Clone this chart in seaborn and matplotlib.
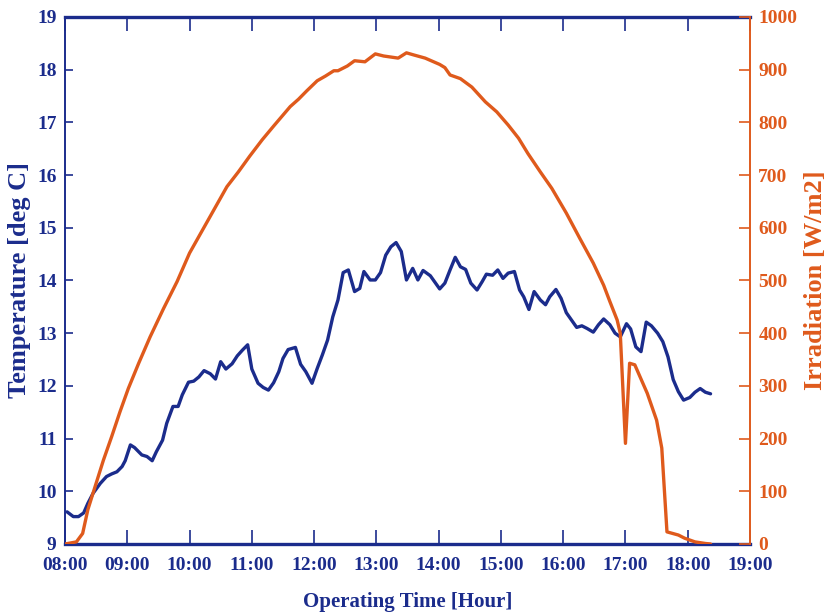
import matplotlib
matplotlib.use("Agg")
import matplotlib.pyplot as plt
import seaborn as sns
import pandas as pd

# ---- data (minutes after 08:00) ----
temp_minutes = [2, 8, 13, 18, 22, 27, 34, 40, 45, 50, 55, 58, 63, 67, 74, 79, 84, 88, 94, 98,
                104, 109, 113, 119, 124, 129, 134, 140, 145, 150, 155, 161, 166, 171, 176, 180,
                186, 191, 196, 201, 206, 210, 215, 222, 227, 232, 238, 243, 248, 253, 258, 263,
                268, 273, 279, 284, 288, 294, 299, 304, 309, 314, 319, 324, 329, 335, 340, 345,
                352, 361, 366, 371, 376, 381, 386, 391, 397, 402, 406, 412, 417, 422, 427, 433,
                438, 442, 447, 452, 458, 463, 467, 473, 478, 483, 488, 493, 498, 503, 509, 514,
                519, 525, 530, 535, 541, 545, 550, 555, 560, 565, 571, 576, 581, 586, 591, 596,
                602, 607, 612, 617, 622]
temperature = [9.61, 9.52, 9.52, 9.59, 9.77, 9.96, 10.15, 10.28, 10.33, 10.37, 10.47, 10.58,
               10.88, 10.83, 10.69, 10.66, 10.58, 10.75, 10.97, 11.29, 11.61, 11.61, 11.83,
               12.07, 12.09, 12.17, 12.29, 12.23, 12.13, 12.46, 12.32, 12.42, 12.57, 12.68,
               12.78, 12.32, 12.05, 11.97, 11.92, 12.06, 12.27, 12.52, 12.69, 12.73, 12.41,
               12.27, 12.05, 12.33, 12.59, 12.87, 13.31, 13.63, 14.15, 14.20, 13.79, 13.85,
               14.17, 14.01, 14.01, 14.15, 14.48, 14.64, 14.72, 14.55, 14.01, 14.23, 14.01,
               14.19, 14.09, 13.84, 13.95, 14.20, 14.44, 14.26, 14.21, 13.95, 13.82, 13.98,
               14.12, 14.10, 14.20, 14.04, 14.14, 14.17, 13.82, 13.69, 13.45, 13.79, 13.63,
               13.54, 13.69, 13.83, 13.66, 13.39, 13.25, 13.11, 13.14, 13.09, 13.02, 13.16,
               13.27, 13.16, 13.00, 12.93, 13.18, 13.08, 12.74, 12.65, 13.21, 13.14, 13.00,
               12.84, 12.55, 12.12, 11.89, 11.73, 11.78, 11.88, 11.95, 11.88, 11.85]

irr_minutes = [0, 11, 17, 22, 29, 37, 45, 53, 61, 71, 82, 95, 108, 120, 128, 138, 148, 156,
               167, 178, 190, 201, 217, 225, 233, 243, 251, 259, 263, 272, 279, 289, 299, 307,
               321, 329, 336, 347, 361, 366, 371, 381, 392, 405, 416, 427, 437, 446, 458, 469,
               483, 496, 509, 519, 525, 532, 535, 540, 544, 549, 561, 570, 575, 580, 591, 597,
               607, 617, 622]
irradiation = [0, 4, 20, 65, 109, 159, 204, 251, 295, 343, 393, 447, 498, 552, 580, 615, 650,
               678, 706, 736, 767, 793, 830, 844, 860, 879, 888, 898, 898, 907, 917, 915, 930,
               926, 922, 932, 928, 922, 910, 904, 890, 883, 867, 839, 820, 795, 770, 741, 706,
               675, 628, 580, 533, 491, 460, 425, 400, 191, 343, 340, 286, 235, 182, 23, 17,
               11, 4, 1, 0]

tick_hours = list(range(8, 20))
tick_labels = [f"{h:02d}:00" for h in tick_hours]

BLUE = "#1b2c8c"
ORANGE = "#df5a1c"

df_t = pd.DataFrame({"hour": [8 + m / 60 for m in temp_minutes], "temp": temperature})
df_i = pd.DataFrame({"hour": [8 + m / 60 for m in irr_minutes], "irr": irradiation})

sns.set_style("white")
plt.rcParams["font.family"] = ["Liberation Serif", "DejaVu Serif"]
plt.rcParams["font.weight"] = "bold"
plt.rcParams.update({
    "xtick.bottom": True, "xtick.top": True, "ytick.left": True, "ytick.right": True,
    "xtick.direction": "in", "ytick.direction": "in",
    "xtick.major.size": 10, "ytick.major.size": 6,
    "xtick.major.width": 1.2, "ytick.major.width": 1.2,
})

fig = plt.figure(figsize=(8.29, 6.14), dpi=100)
ax = fig.add_axes([65 / 829, 1 - 544 / 614, (750 - 65) / 829, (544 - 17) / 614])
ax2 = ax.twinx()

sns.lineplot(data=df_t, x="hour", y="temp", ax=ax, color=BLUE, linewidth=2.4,
             estimator=None, sort=False)
sns.lineplot(data=df_i, x="hour", y="irr", ax=ax2, color=ORANGE, linewidth=2.4,
             estimator=None, sort=False)

ax.set_xlim(8, 19)
ax.set_ylim(9, 19)
ax2.set_ylim(0, 1000)
ax.set_xticks(tick_hours)
ax.set_xticklabels(tick_labels)
ax.set_yticks(range(9, 20))
ax2.set_yticks(range(0, 1001, 100))

ax.set_xlabel("Operating Time [Hour]", fontsize=15, fontweight="bold", color=BLUE, labelpad=13)
ax.set_ylabel("Temperature [deg C]", fontsize=19, fontweight="bold", color=BLUE, labelpad=4)
ax2.set_ylabel("Irradiation [W/m2]", fontsize=19, fontweight="bold", color=ORANGE, labelpad=5)

ax.xaxis.set_tick_params(which="major", direction="in", length=10, width=1.2, color=BLUE,
                         labelcolor=BLUE, labelsize=14, top=True, bottom=True,
                         labeltop=False, labelbottom=True, pad=9)
ax.yaxis.set_tick_params(which="major", direction="in", length=6, width=1.2, color=BLUE,
                         labelcolor=BLUE, labelsize=14, left=True, right=False,
                         labelleft=True, labelright=False, pad=6)
ax2.yaxis.set_tick_params(which="major", direction="in", length=8, width=1.2, color=ORANGE,
                          labelcolor=ORANGE, labelsize=14, right=True, left=False,
                          labelright=True, labelleft=False, pad=6)
for lab in ax.get_xticklabels() + ax.get_yticklabels() + ax2.get_yticklabels():
    lab.set_fontweight("bold")

for name in ["left", "bottom", "top"]:
    ax.spines[name].set_color(BLUE)
ax.spines["left"].set_linewidth(1.4)
ax.spines["bottom"].set_linewidth(2.4)
ax.spines["top"].set_linewidth(2.4)
ax.spines["right"].set_visible(False)
for name in ["left", "bottom", "top"]:
    ax2.spines[name].set_visible(False)
ax2.spines["right"].set_color(ORANGE)
ax2.spines["right"].set_linewidth(1.4)

fig.savefig("out.png", dpi=100)
